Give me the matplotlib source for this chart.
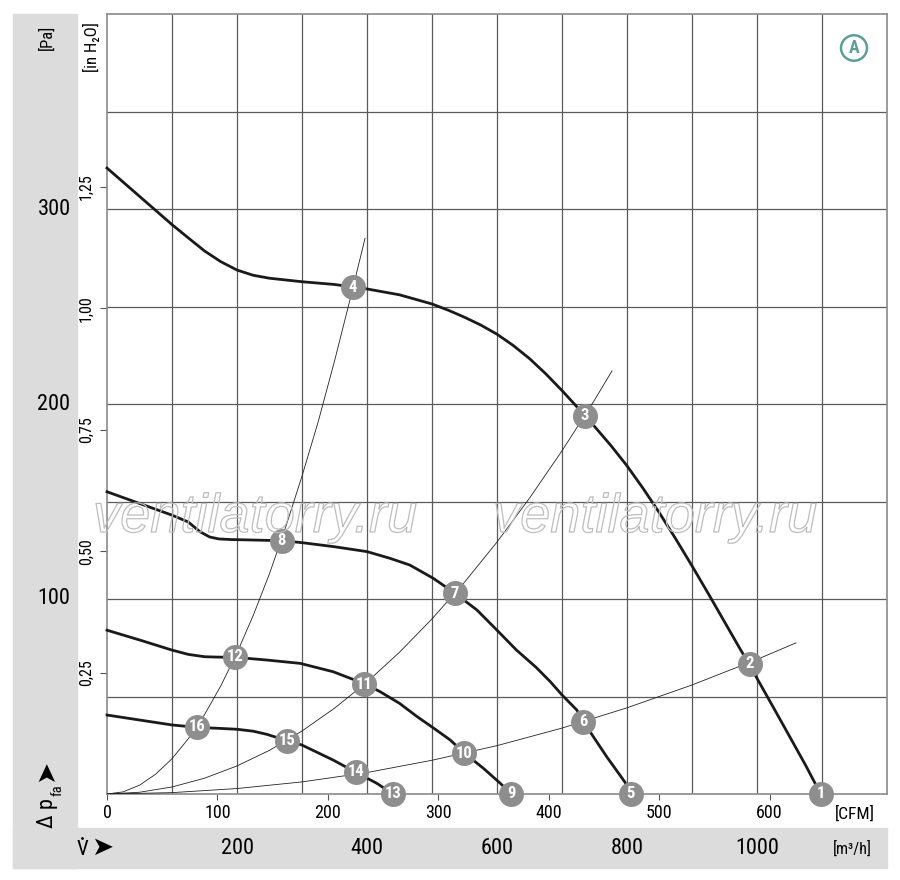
import matplotlib
matplotlib.use('Agg')
import matplotlib.pyplot as plt
import matplotlib.patheffects as pe
import matplotlib.transforms as mtransforms
from matplotlib import font_manager as fm
from matplotlib.patches import Rectangle, Circle
import numpy as np

# schmale Schrift suchen, sonst DejaVu Sans
narrow = None
for f in fm.fontManager.ttflist:
    if f.name in ('Roboto Condensed', 'Liberation Sans Narrow', 'Open Sans Condensed'):
        narrow = (f.name, 'normal')
        break
if narrow is None:
    for fam in ('Roboto', 'Noto Sans', 'Open Sans', 'DejaVu Sans', 'Liberation Sans'):
        if any(f.name == fam and str(f.stretch) in ('condensed', 'semi-condensed', 'extra-condensed')
               for f in fm.fontManager.ttflist):
            narrow = (fam, 'condensed')
            break
if narrow is None:
    narrow = ('DejaVu Sans', 'normal')
plt.rcParams['font.family'] = [narrow[0], 'DejaVu Sans']
plt.rcParams['font.stretch'] = narrow[1]

# Kennlinien (Volumenstrom in m3/h, Druck in Pa)
curve_a_q = [0, 50, 100, 125, 150, 175, 200, 225, 250, 300, 350, 378, 400, 450, 500, 525, 550,
             575, 600, 625, 650, 675, 700, 725, 735, 750, 775, 800, 825, 850, 875, 900, 925,
             950, 975, 989, 1000, 1025, 1050, 1075, 1098]
curve_a_p = [321, 306.5, 292, 285.2, 278.5, 273, 268.7, 266, 264.5, 262.7, 261.3, 260, 259, 256,
             251.3, 248.1, 244.5, 240.5, 235.8, 230, 223.3, 215.5, 206.9, 197.8, 194, 188.5,
             178.8, 168.3, 156.6, 144.1, 130.8, 117, 102.8, 88.3, 73.8, 66, 59.3, 44.5, 29.6,
             14.6, 0]

curve_b_q = [0, 50, 100, 125, 143, 158, 172, 190, 230, 269, 300, 350, 400, 435, 466, 502, 535,
             569, 600, 630, 660, 682, 700, 723, 733, 769, 797, 806]
curve_b_p = [155, 149, 143, 139.5, 134.5, 131.8, 130.8, 130.5, 130.2, 129.9, 128.9, 126.8, 124.3,
             120.9, 117.4, 110.6, 103, 94.4, 84, 73.8, 65, 57.6, 50.8, 43, 37, 19, 6, 0]

curve_c_q = [0, 50, 100, 125, 150, 170, 197, 246, 297, 348, 394, 420, 450, 477, 505, 528, 550,
             579, 605, 622]
curve_c_p = [84, 79, 73.8, 71.6, 70.4, 70.2, 70.1, 68.7, 67, 62.7, 56.8, 52.5, 46.5, 39.7, 33.2,
             27.7, 20.9, 13.2, 5.5, 0]

curve_d_q = [0, 51, 100, 138, 170, 200, 225, 246, 277, 300, 348, 383, 415, 440]
curve_d_p = [40.5, 37.9, 35.4, 34.2, 33.7, 33.2, 32.2, 30.6, 27.3, 25.1, 17.4, 11.1, 5.5, 0]

# Anlagenkennlinien
sys1_q = [0, 25, 50, 75, 100, 125, 150, 175, 200, 225, 250, 275, 300, 325, 350, 375, 397]
sys1_p = [0, 1.1, 4.5, 10.2, 18.1, 28.3, 40.7, 55.4, 72.4, 91.6, 113, 137, 163, 191, 222, 255, 285]
sys2_q = [0, 50, 100, 150, 200, 250, 300, 350, 400, 450, 500, 550, 600, 650, 700, 750, 777]
sys2_p = [0, 0.9, 3.6, 8.1, 14.4, 22.4, 32.3, 44, 57.4, 72.7, 89.8, 108.6, 129.2, 151.7, 176, 202, 217]
sys3_q = [0, 100, 200, 300, 400, 500, 600, 700, 800, 900, 1000, 1060]
sys3_p = [0, 0.7, 2.8, 6.2, 11, 17.3, 24.8, 33.8, 44.2, 55.9, 69, 77.5]

# Betriebspunkte
point_ids = [1, 2, 3, 4, 5, 6, 7, 8, 9, 10, 11, 12, 13, 14, 15, 16]
point_q = [1098, 989, 735, 378, 806, 733, 535, 269, 622, 549, 395, 197, 440, 383, 277, 138]
point_p = [0, 66.7, 194, 260, 0, 37, 103, 130, 0, 21, 56.4, 70.3, 0, 11.3, 27.2, 34.4]

cfm_ticks = [0, 100, 200, 300, 400, 500, 600]
m3h_labels = [200, 400, 600, 800, 1000]
pa_labels = [100, 200, 300]
inh2o_ticks = [0.25, 0.50, 0.75, 1.00, 1.25]

CFM = 1.699      # m3/h pro CFM
INH2O = 249.09   # Pa pro in H2O
W, H = 900, 880


def fx(px):
    return px / W


def fy(py):
    return 1 - py / H


fig = plt.figure(figsize=(9, 8.8), dpi=100)
grey = '#dcdcdd'
fig.patches.append(Rectangle((fx(13), fy(868)), 64 / W, 854 / H,
                             transform=fig.transFigure, color=grey, zorder=-5))
fig.patches.append(Rectangle((fx(13), fy(868)), 874 / W, 40 / H,
                             transform=fig.transFigure, color=grey, zorder=-5))

ax = fig.add_axes([fx(107), fy(794), 780 / W, 780 / H])
ax.set_xlim(0, 1200)
ax.set_ylim(0, 400)

ax.set_xticks(np.array(cfm_ticks) * CFM)
ax.set_xticklabels([str(v) for v in cfm_ticks])
ax.set_xticks(np.arange(100, 1200, 100), minor=True)
ax.set_yticks(np.array(inh2o_ticks) * INH2O)
ax.set_yticklabels([f'{v:.2f}'.replace('.', ',') for v in inh2o_ticks],
                   rotation=90, va='center')
ax.set_yticks(np.arange(50, 400, 50), minor=True)
ax.tick_params(axis='x', which='major', direction='out', length=4.5, width=0.8,
               color='#555555', labelsize=13, pad=3)
ax.tick_params(axis='y', which='major', direction='out', length=5, width=0.8,
               color='#555555', labelsize=11.5, pad=4.5)
ax.tick_params(which='minor', length=0)
ax.grid(which='minor', color='#5a5a5a', lw=0.9)
for s in ax.spines.values():
    s.set_color('#8a8a8a')
    s.set_linewidth(1.2)

# Kurven
for q, p in [(curve_a_q, curve_a_p), (curve_b_q, curve_b_p),
             (curve_c_q, curve_c_p), (curve_d_q, curve_d_p)]:
    ax.plot(q, p, color='#1a1a1a', lw=2.0, solid_joinstyle='round', zorder=3, clip_on=False)
for q, p in [(sys1_q, sys1_p), (sys2_q, sys2_p), (sys3_q, sys3_p)]:
    ax.plot(q, p, color='#222222', lw=0.6, zorder=3)

ax.plot(point_q, point_p, 'o', ms=18, color='#8e8e8e', mec='none', zorder=4, clip_on=False)
for n, q, p in zip(point_ids, point_q, point_p):
    ax.text(q, p, str(n), color='white', fontsize=12, fontweight='bold',
            ha='center', va='center', zorder=5)

# Achsbeschriftungen in den grauen Streifen
ty = mtransforms.blended_transform_factory(fig.transFigure, ax.transData)
for v in pa_labels:
    ax.text(fx(54), v, str(v), transform=ty, fontsize=16, ha='center', va='center')
tx = mtransforms.blended_transform_factory(ax.transData, fig.transFigure)
for v in m3h_labels:
    ax.text(v, fy(848), str(v), transform=tx, fontsize=16, ha='center', va='center')

fig.text(fx(47), fy(37), '[Pa]', rotation=90, fontsize=12, ha='center', va='center')
fig.text(fx(91), fy(47), '[in H\u2082O]', rotation=90, fontsize=12, ha='center', va='center')
fig.text(fx(855), fy(814), '[CFM]', fontsize=12.5, ha='center', va='center')
fig.text(fx(852), fy(849), '[m\u00b3/h]', fontsize=11.5, ha='center', va='center')

# Delta p_fa mit Pfeil
fig.text(fx(53), fy(828), '\u0394 p', rotation=90, rotation_mode='anchor', fontsize=16,
         ha='left', va='baseline')
fig.text(fx(61), fy(796), 'fa', rotation=90, rotation_mode='anchor', fontsize=10.5,
         ha='left', va='baseline')
fig.text(fx(45.5), fy(771), '\u27a4', rotation=90, fontsize=19, ha='center', va='center',
         family='DejaVu Sans')

# V-Punkt mit Pfeil
fig.text(fx(82), fy(849), 'V', fontsize=15, ha='center', va='center')
fig.patches.append(Circle((fx(82.5), fy(838.5)), 1.4 / W, transform=fig.transFigure,
                          color='black', lw=0))
fig.text(fx(102), fy(848), '\u27a4', fontsize=19, ha='center', va='center',
         family='DejaVu Sans')

# Kennzeichen A
teal = '#5b9f99'
fig.patches.append(Circle((fx(854), fy(48)), 13 / W, transform=fig.transFigure,
                          fill=False, ec=teal, lw=1.8))
fig.text(fx(854), fy(48), 'A', color=teal, fontsize=13, fontweight='bold',
         ha='center', va='center')

# Wasserzeichen (nur Umriss)
for cx in (255, 655):
    fig.text(fx(cx), fy(518), 'ventilatorry.ru', family='Liberation Sans',
             style='italic', fontsize=39, color='none', ha='center', va='center',
             path_effects=[pe.withStroke(linewidth=0.9, foreground='#bdbdbd')])

fig.savefig('out.png', dpi=100)
